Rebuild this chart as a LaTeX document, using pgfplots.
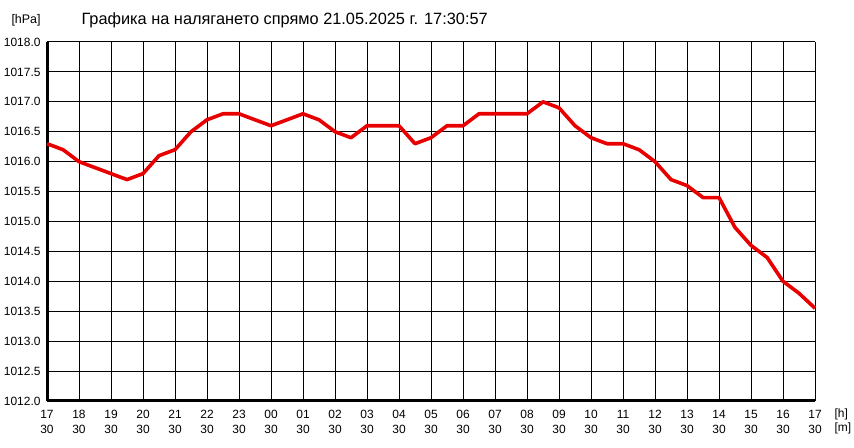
\documentclass[border=0pt]{standalone}
\usepackage{pgfplots}
\pgfplotsset{compat=1.18}
\usepackage{fontspec}
\setmainfont{Liberation Sans}
\definecolor{pline}{RGB}{232,0,0}

\begin{document}
\begin{tikzpicture}[x=1bp,y=1bp]
\path[use as bounding box] (0,0) rectangle (854,448);
\begin{axis}[
    at={(47bp,47bp)}, anchor=south west,
    scale only axis,
    width=768bp, height=359bp,
    xmin=0, xmax=24,
    ymin=1012, ymax=1018,
    xtick={0,...,24},
    xticklabels={17\\30,18\\30,19\\30,20\\30,21\\30,22\\30,23\\30,00\\30,01\\30,02\\30,03\\30,04\\30,05\\30,06\\30,07\\30,08\\30,09\\30,10\\30,11\\30,12\\30,13\\30,14\\30,15\\30,16\\30,17\\30},
    xticklabel style={align=center, font=\fontsize{12}{14.5}\selectfont, yshift=-6bp},
    ytick={1012,1012.5,...,1018},
    yticklabel style={font=\fontsize{12}{14}\selectfont, xshift=-3bp},
    /pgf/number format/.cd, fixed, fixed zerofill, precision=1, 1000 sep={}, assume math mode=true,
    /pgfplots/.cd,
    major tick length=0pt,
    grid=major,
    major grid style={black, line width=1bp},
    axis lines=left,
    axis line style={-, line width=3bp, black},
    clip=false,
]
\addplot[pline, line width=3.6bp, line join=round, no marks] coordinates {
(0,1016.3) (0.5,1016.2) (1,1016.0) (1.5,1015.9) (2,1015.8) (2.5,1015.7)
(3,1015.8) (3.5,1016.1) (4,1016.2) (4.5,1016.5) (5,1016.7) (5.5,1016.8)
(6,1016.8) (6.5,1016.7) (7,1016.6) (7.5,1016.7) (8,1016.8) (8.5,1016.7)
(9,1016.5) (9.5,1016.4) (10,1016.6) (10.5,1016.6) (11,1016.6) (11.5,1016.3)
(12,1016.4) (12.5,1016.6) (13,1016.6) (13.5,1016.8) (14,1016.8) (14.5,1016.8)
(15,1016.8) (15.5,1017.0) (16,1016.9) (16.5,1016.6) (17,1016.4) (17.5,1016.3)
(18,1016.3) (18.5,1016.2) (19,1016.0) (19.5,1015.7) (20,1015.6) (20.5,1015.4)
(21,1015.4) (21.5,1014.9) (22,1014.6) (22.5,1014.4) (23,1014.0) (23.5,1013.8)
(24,1013.55)
};
\end{axis}
\node[anchor=west, font=\fontsize{12.5}{14}\selectfont] at (8bp,428bp) {[hPa]};
\node[anchor=west, font=\fontsize{16.4}{18}\selectfont] at (78bp,428bp) {Графика на налягането спрямо 21.05.2025 г. 17:30:57};
\node[anchor=west, font=\fontsize{12}{14}\selectfont] at (831bp,34bp) {[h]};
\node[anchor=west, font=\fontsize{12}{14}\selectfont] at (831bp,20bp) {[m]};
\end{tikzpicture}
\end{document}
